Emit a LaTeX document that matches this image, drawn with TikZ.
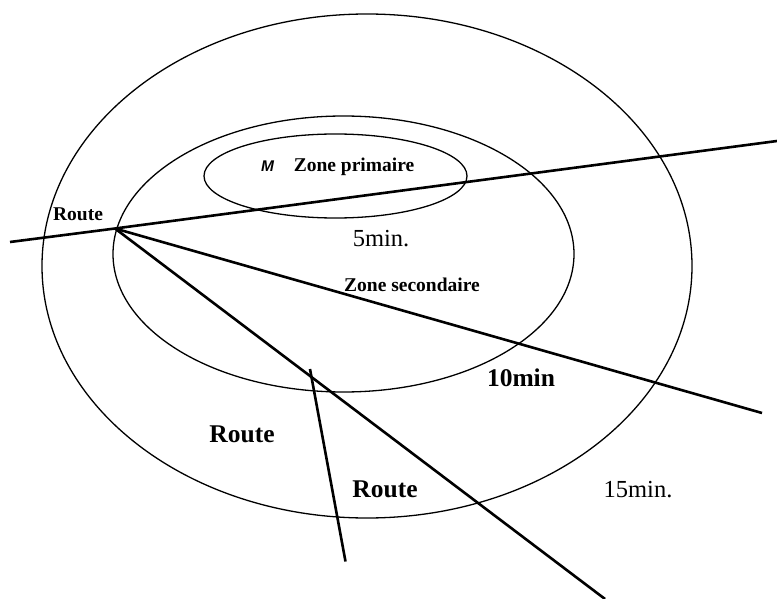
\documentclass[tikz,border=0pt]{standalone}
\usepackage{fontspec}
\setmainfont{Liberation Serif}
\setsansfont{Liberation Sans}
\begin{document}
\begin{tikzpicture}[x=1pt,y=-1pt,
  zone/.style={line width=1.3pt},
  road/.style={line width=2.6pt},
  lbl/.style={inner sep=0pt,anchor=base},
  bsmall/.style={lbl,font=\fontsize{19.5}{19.5}\selectfont\bfseries},
  bbig/.style={lbl,font=\fontsize{25.5}{25.5}\selectfont\bfseries},
  rbig/.style={lbl,font=\fontsize{24.5}{24.5}\selectfont}]
\useasboundingbox (0,0) rectangle (777,599);
% zones
\draw[zone] (367,266) ellipse [x radius=325, y radius=252];
\draw[zone] (343.5,254) ellipse [x radius=230.5, y radius=138];
\draw[zone] (335.5,176) ellipse [x radius=131.5, y radius=42];
% road points
\coordinate (j) at (115,228.5);
\coordinate (w) at (10,242);
\coordinate (e) at (777,141);
\coordinate (se) at (762,413);
\coordinate (s) at (605,599);
\coordinate (bt) at (310,369);
\coordinate (bb) at (345.5,561.5);
\draw[road] (w) -- (j) -- (e);
\draw[road] (j) -- (se);
\draw[road] (j) -- (s);
\draw[road] (bt) -- (bb);
% labels
\node[lbl,font=\fontsize{15.5}{15.5}\selectfont\sffamily\bfseries\itshape] (m) at (267.5,172) {M};
\node[bsmall] (zp) at (354,172) {Zone primaire};
\node[bsmall] (r1) at (78,221) {Route};
\node[rbig] (t5) at (381,247) {5min.};
\node[bsmall] (zs) at (412,291) {Zone secondaire};
\node[bbig] (t10) at (521,386) {10min};
\node[bbig] (r2) at (242,442) {Route};
\node[bbig] (r3) at (385,497) {Route};
\node[rbig] (t15) at (638,497) {15min.};
\end{tikzpicture}
\end{document}
